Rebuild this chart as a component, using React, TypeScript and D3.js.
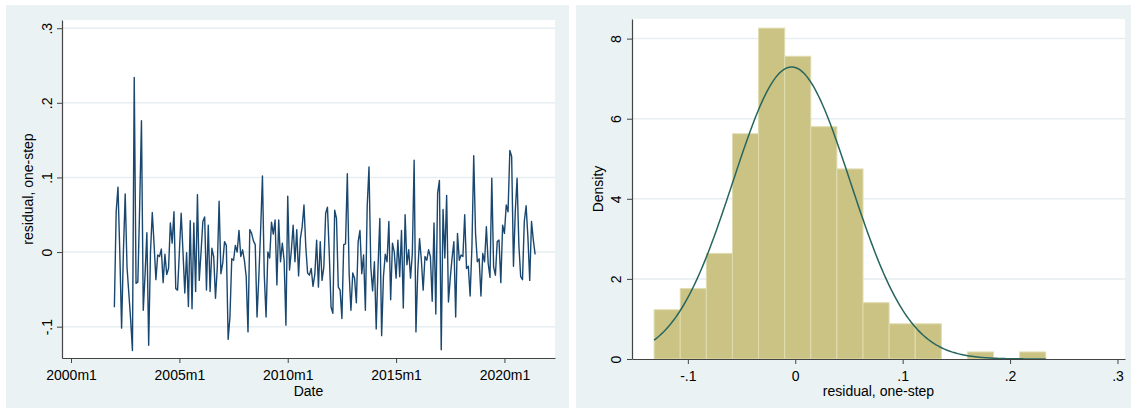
import React, { useRef, useEffect } from "react";
import * as d3 from "d3";

const W = 1133;
const H = 410;

// one-step residuals, monthly, 2002m1 .. 2021m6 (months counted from 2000m1)
const firstMonth = 24;
const residuals = [
  -0.074, 0.054, 0.087, 0.0, -0.102, 0.0, 0.078, -0.02, -0.055, -0.09, -0.132, 0.234,
  -0.042, -0.04, 0.06, 0.176, -0.078, -0.03, 0.026, -0.125, 0.0, 0.053, 0.01, -0.037,
  -0.004, -0.006, 0.004, -0.041, -0.003, -0.03, -0.022, 0.039, 0.012, 0.054, -0.049, -0.051,
  0.0, 0.052, 0.0, -0.055, -0.001, -0.073, 0.042, -0.076, 0.039, -0.053, 0.077, -0.038,
  0.0, 0.041, 0.047, -0.051, 0.036, -0.053, 0.005, -0.006, -0.062, -0.02, 0.068, -0.029,
  -0.015, 0.014, 0.009, -0.117, -0.087, -0.009, -0.011, 0.009, 0.0, 0.029, -0.006, 0.003,
  -0.011, -0.033, -0.107, 0.03, 0.025, 0.015, 0.01, -0.087, -0.033, 0.03, 0.102, -0.03,
  -0.087, 0.0, -0.008, 0.04, 0.024, 0.043, -0.044, 0.043, -0.013, 0.012, -0.011, -0.098,
  0.075, -0.024, 0.002, 0.036, -0.013, 0.03, -0.032, 0.018, 0.034, 0.063, 0.007, -0.028,
  -0.031, -0.022, -0.046, -0.03, 0.016, -0.047, 0.014, -0.038, -0.02, 0.052, 0.06, -0.002,
  -0.074, -0.082, 0.056, 0.045, -0.047, -0.051, -0.089, 0.01, 0.011, 0.105, -0.028, -0.078,
  -0.028, -0.035, -0.068, 0.014, 0.029, -0.029, -0.004, -0.078, 0.061, 0.114, -0.02, -0.052,
  -0.013, -0.103, -0.02, 0.045, -0.112, -0.033, -0.003, -0.013, 0.041, -0.064, 0.012, 0.0,
  -0.035, 0.016, -0.033, 0.029, -0.075, 0.05, -0.017, 0.003, -0.035, -0.002, 0.123, -0.107,
  -0.026, 0.018, -0.011, -0.051, -0.006, -0.011, 0.003, -0.006, -0.066, 0.039, -0.083, 0.079,
  0.096, -0.131, 0.057, -0.008, 0.076, -0.067, -0.035, -0.008, 0.014, -0.087, 0.025, -0.011,
  -0.004, -0.006, 0.05, -0.022, -0.019, -0.059, 0.007, 0.129, 0.025, -0.013, -0.009, -0.059,
  -0.002, -0.013, 0.034, -0.015, -0.034, 0.099, -0.02, -0.031, 0.014, 0.016, -0.041, 0.036,
  0.025, 0.063, 0.054, 0.136, 0.128, -0.019, 0.054, 0.099, 0.009, -0.033, -0.037, 0.041,
  0.062, 0.02, -0.038, 0.041, 0.016, -0.003,
];

const dateTicks = [0, 60, 120, 180, 240];
const dateTickLabels = ["2000m1", "2005m1", "2010m1", "2015m1", "2020m1"];
const residTicks = [-0.1, 0, 0.1, 0.2, 0.3];
const residTickLabels = ["-.1", "0", ".1", ".2", ".3"];

// histogram: 15 bins, counts per bin
const binStart = -0.1314;
const binWidth = 0.02431;
const binCounts = [7, 10, 15, 32, 47, 43, 33, 27, 8, 5, 5, 0, 1, 0, 1];
const normalMean = -0.0034;
const normalSd = 0.0547;
const densityTicks = [0, 2, 4, 6, 8];
const densityTickLabels = ["0", "2", "4", "6", "8"];
const histTickLabels = ["-.1", "0", ".1", ".2", ".3"];

const font = "'Liberation Sans', Arial, Helvetica, sans-serif";
const panelBg = "#eaf2f3";
const gridColor = "#e6eef1";
const axisColor = "#444";

export default function App() {
  const svgRef = useRef<SVGSVGElement>(null);

  useEffect(() => {
    document.body.style.margin = "0";
    const svg = d3.select(svgRef.current);
    svg.selectAll("*").remove();

    // ---------- left panel: residuals over time ----------
    const L = { left: 62, right: 555, top: 20, bottom: 358 };
    const xDate = d3.scaleLinear().domain([-5, 268]).range([L.left, L.right]);
    const yRes = d3.scaleLinear().domain([-0.142, 0.311]).range([L.bottom, L.top]);

    svg.append("rect").attr("x", 6).attr("y", 5).attr("width", 563).attr("height", 403).attr("fill", panelBg);
    svg
      .append("rect")
      .attr("x", L.left)
      .attr("y", L.top)
      .attr("width", L.right - L.left)
      .attr("height", L.bottom - L.top)
      .attr("fill", "white");

    svg
      .append("g")
      .selectAll("line")
      .data(residTicks)
      .join("line")
      .attr("x1", L.left)
      .attr("x2", L.right)
      .attr("y1", (d) => yRes(d))
      .attr("y2", (d) => yRes(d))
      .attr("stroke", gridColor)
      .attr("stroke-width", 1.5);

    const line = d3
      .line<number>()
      .x((d, i) => xDate(firstMonth + i))
      .y((d) => yRes(d));

    svg
      .append("path")
      .datum(residuals)
      .attr("d", line)
      .attr("fill", "none")
      .attr("stroke", "#1a476f")
      .attr("stroke-width", 1.4)
      .attr("stroke-linejoin", "round");

    const xAxisL = svg
      .append("g")
      .attr("transform", `translate(0,${L.bottom})`)
      .call(
        d3
          .axisBottom(xDate)
          .tickValues(dateTicks)
          .tickSize(5)
          .tickSizeOuter(0)
          .tickFormat((d, i) => dateTickLabels[i])
      );
    styleAxis(xAxisL);
    xAxisL.selectAll("text").attr("y", 22).attr("dy", null);

    const yAxisL = svg
      .append("g")
      .attr("transform", `translate(${L.left},0)`)
      .call(
        d3
          .axisLeft(yRes)
          .tickValues(residTicks)
          .tickSize(5)
          .tickSizeOuter(0)
          .tickFormat((d, i) => residTickLabels[i])
      );
    styleAxis(yAxisL);
    yAxisL
      .selectAll("text")
      .attr("transform", "rotate(-90)")
      .attr("x", 0)
      .attr("y", -10)
      .attr("dy", null)
      .attr("text-anchor", "middle");

    svg
      .append("text")
      .attr("x", (L.left + L.right) / 2)
      .attr("y", 396)
      .attr("text-anchor", "middle")
      .attr("font-family", font)
      .attr("font-size", 14)
      .text("Date");

    svg
      .append("text")
      .attr("transform", `translate(33,${(L.top + L.bottom) / 2}) rotate(-90)`)
      .attr("text-anchor", "middle")
      .attr("font-family", font)
      .attr("font-size", 14)
      .text("residual, one-step");

    // ---------- right panel: histogram with normal density ----------
    const R = { left: 632, right: 1125, top: 19, bottom: 359 };
    const xHist = d3.scaleLinear().domain([-0.152, 0.307]).range([R.left, R.right]);
    const yDen = d3.scaleLinear().domain([0, 8.49]).range([R.bottom, R.top]);
    const n = d3.sum(binCounts);

    svg.append("rect").attr("x", 576).attr("y", 5).attr("width", 555).attr("height", 403).attr("fill", panelBg);
    svg
      .append("rect")
      .attr("x", R.left)
      .attr("y", R.top)
      .attr("width", R.right - R.left)
      .attr("height", R.bottom - R.top)
      .attr("fill", "white");

    svg
      .append("g")
      .selectAll("line")
      .data(densityTicks.filter((d) => d > 0))
      .join("line")
      .attr("x1", R.left)
      .attr("x2", R.right)
      .attr("y1", (d) => yDen(d))
      .attr("y2", (d) => yDen(d))
      .attr("stroke", gridColor)
      .attr("stroke-width", 1.5);

    const bins = binCounts.map((c, i) => ({
      x0: binStart + i * binWidth,
      x1: binStart + (i + 1) * binWidth,
      density: c / (n * binWidth),
    }));

    svg
      .append("g")
      .selectAll("rect")
      .data(bins.filter((b) => b.density > 0))
      .join("rect")
      .attr("x", (d) => xHist(d.x0))
      .attr("width", (d) => xHist(d.x1) - xHist(d.x0))
      .attr("y", (d) => yDen(d.density))
      .attr("height", (d) => yDen(0) - yDen(d.density))
      .attr("fill", "#cbc383")
      .attr("stroke", "#e0dcb0")
      .attr("stroke-width", 1);

    const xs = d3.range(0, 201).map((i) => binStart + (i / 200) * binWidth * binCounts.length);
    const normal = d3
      .line<number>()
      .x((d) => xHist(d))
      .y((d) =>
        yDen(
          Math.exp(-0.5 * ((d - normalMean) / normalSd) ** 2) /
            (normalSd * Math.sqrt(2 * Math.PI))
        )
      );

    svg
      .append("path")
      .datum(xs)
      .attr("d", normal)
      .attr("fill", "none")
      .attr("stroke", "#27665e")
      .attr("stroke-width", 1.5);

    const xAxisR = svg
      .append("g")
      .attr("transform", `translate(0,${R.bottom})`)
      .call(
        d3
          .axisBottom(xHist)
          .tickValues(residTicks)
          .tickSize(5)
          .tickSizeOuter(0)
          .tickFormat((d, i) => histTickLabels[i])
      );
    styleAxis(xAxisR);
    xAxisR.selectAll("text").attr("y", 22).attr("dy", null);

    const yAxisR = svg
      .append("g")
      .attr("transform", `translate(${R.left},0)`)
      .call(
        d3
          .axisLeft(yDen)
          .tickValues(densityTicks)
          .tickSize(5)
          .tickSizeOuter(0)
          .tickFormat((d, i) => densityTickLabels[i])
      );
    styleAxis(yAxisR);
    yAxisR
      .selectAll("text")
      .attr("transform", "rotate(-90)")
      .attr("x", 0)
      .attr("y", -11)
      .attr("dy", null)
      .attr("text-anchor", "middle");

    svg
      .append("text")
      .attr("x", (R.left + R.right) / 2)
      .attr("y", 396)
      .attr("text-anchor", "middle")
      .attr("font-family", font)
      .attr("font-size", 14)
      .text("residual, one-step");

    svg
      .append("text")
      .attr("transform", `translate(603,${(R.top + R.bottom) / 2}) rotate(-90)`)
      .attr("text-anchor", "middle")
      .attr("font-family", font)
      .attr("font-size", 14)
      .text("Density");
  }, []);

  return <svg ref={svgRef} width={W} height={H} style={{ display: "block", background: "white" }} />;
}

function styleAxis(g: d3.Selection<SVGGElement, unknown, null, undefined>) {
  g.attr("font-family", font).attr("font-size", 14);
  g.select(".domain").attr("stroke", axisColor).attr("stroke-width", 1.2);
  g.selectAll(".tick line").attr("stroke", axisColor).attr("stroke-width", 1);
  g.selectAll(".tick text").attr("fill", "#000");
}
